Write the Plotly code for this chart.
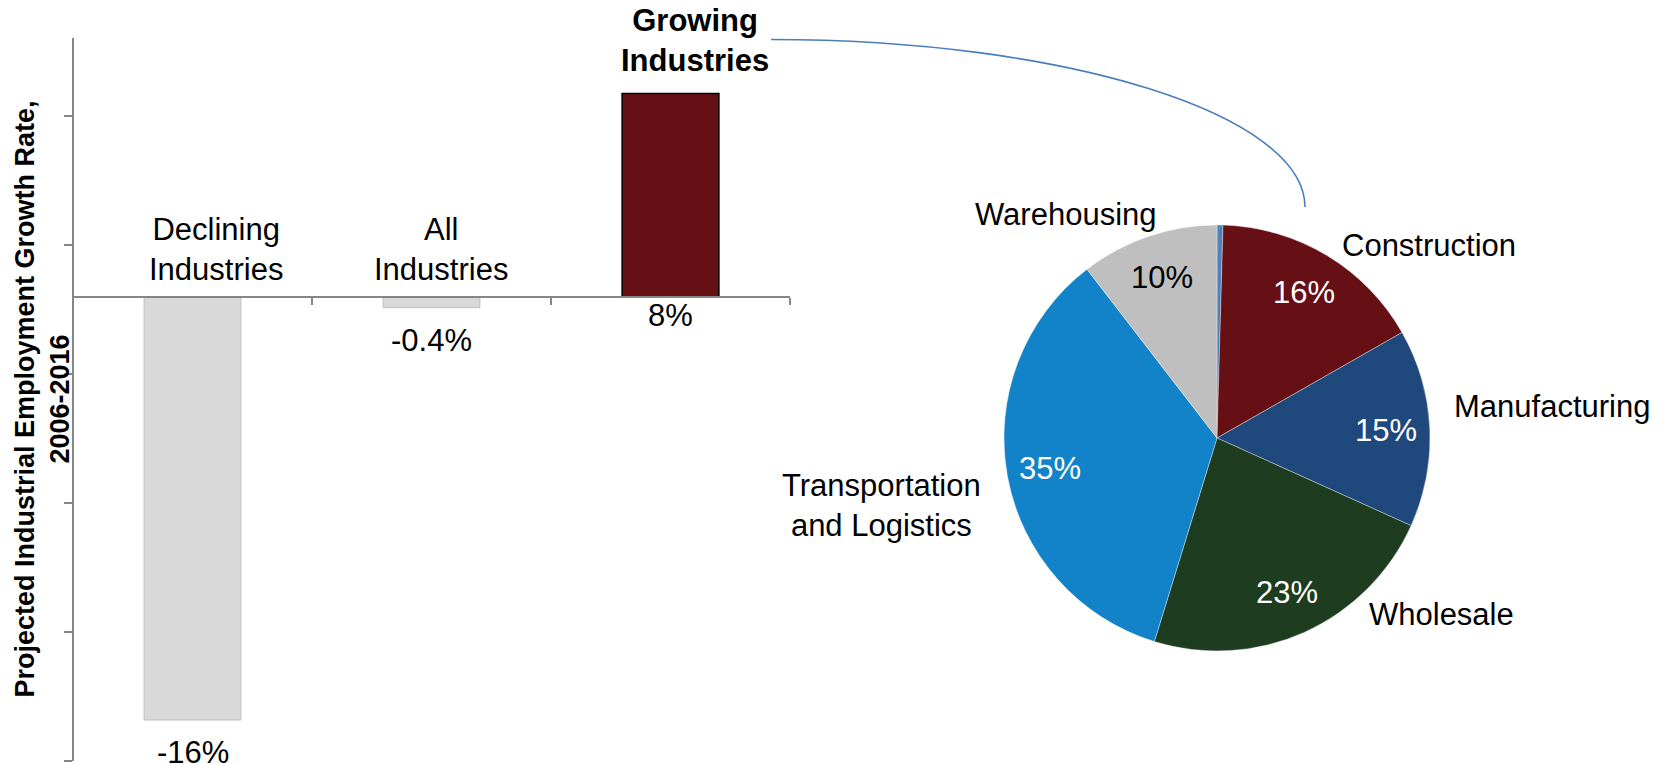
import math
import plotly.graph_objects as go

# ---------------- data ----------------
categories = ["Declining Industries", "All Industries", "Growing Industries"]
growth = [-16.0, -0.4, 7.7]
growth_labels = ["-16%", "-0.4%", "8%"]
y_range = [-17.55, 9.8]
y_ticks = [-17.55, -12.67, -7.79, -2.91, 1.97, 6.85]

sectors = ["Other", "Construction", "Manufacturing", "Wholesale",
           "Transportation and Logistics", "Warehousing"]
shares = [0.45, 16.3, 15.0, 23.0, 34.8, 10.45]
share_labels = ["", "16%", "15%", "23%", "35%", "10%"]

# ---------------- style ----------------
W, H = 1675, 764
FONT = "Arial, Liberation Sans, sans-serif"
AXIS_COLOR = "#868686"
bar_fill = ["#d9d9d9", "#d9d9d9", "#660f14"]
bar_line = ["#bfbfbf", "#bfbfbf", "#000000"]
bar_line_w = [1, 1, 1.5]
cat_label_xshift = [23, 9, 24]
pie_colors = ["#4f81bd", "#660f14", "#1f497d", "#1d3c20", "#1283c9", "#bfbfbf"]
inside_text_colors = ["white", "white", "white", "white", "white", "black"]


def px(x):
    return x / W


def py(y):
    return 1 - y / H


x_dom = [px(73), px(790)]
y_dom = [py(761), py(38)]
zero_pos = y_dom[0] + (0 - y_range[0]) / (y_range[1] - y_range[0]) * (y_dom[1] - y_dom[0])

fig = go.Figure()

fig.add_trace(go.Bar(
    x=list(range(len(categories))), y=growth, width=0.405,
    marker=dict(color=bar_fill, line=dict(color=bar_line, width=bar_line_w)),
    hoverinfo="skip", showlegend=False,
))

# pie geometry (pixels)
pcx, pcy, pR = 1217, 438, 213
fig.add_trace(go.Pie(
    labels=sectors, values=shares, sort=False, direction="clockwise", rotation=0,
    marker=dict(colors=pie_colors, line=dict(color="rgba(255,255,255,0.45)", width=0.8)),
    textinfo="none", textposition="none", hoverinfo="skip", showlegend=False,
    domain=dict(x=[px(pcx - pR), px(pcx + pR)], y=[py(pcy + pR), py(pcy - pR)]),
))

annotations = []
font_n = dict(family=FONT, size=31, color="black")

# category labels
for i, cat in enumerate(categories):
    txt = cat.replace(" ", "<br>")
    if growth[i] > 0:
        annotations.append(dict(x=i, y=growth[i], xref="x", yref="y", text="<b>" + txt + "</b>",
                                showarrow=False, xanchor="center", yanchor="bottom",
                                xshift=cat_label_xshift[i], yshift=14, font=font_n))
    else:
        annotations.append(dict(x=i, y=0, xref="x", yref="y", text=txt,
                                showarrow=False, xanchor="center", yanchor="bottom",
                                xshift=cat_label_xshift[i], yshift=8, font=font_n))
    # value labels
    annotations.append(dict(x=i, y=min(growth[i], 0), xref="x", yref="y", text=growth_labels[i],
                            showarrow=False, xanchor="center", yanchor="top",
                            yshift=-13 if growth[i] < 0 else 1, font=font_n))

# y-axis title
annotations.append(dict(x=px(42.5), y=py(399), xref="paper", yref="paper",
                        text="<b>Projected Industrial Employment Growth Rate,<br>2006-2016</b>",
                        textangle=-90, showarrow=False, xanchor="center", yanchor="middle",
                        font=dict(family=FONT, size=27, color="black")))

# pie inside labels at 0.795 R along bisector
total = sum(shares)
cum = 0.0
for i, v in enumerate(shares):
    mid = (cum + v / 2) / total * 2 * math.pi
    cum += v
    if not share_labels[i]:
        continue
    r = 0.795 * pR
    x = pcx + r * math.sin(mid)
    y = pcy - r * math.cos(mid)
    annotations.append(dict(x=px(x), y=py(y), xref="paper", yref="paper", text=share_labels[i],
                            showarrow=False, xanchor="center", yanchor="middle",
                            font=dict(family=FONT, size=31, color=inside_text_colors[i])))

# pie outside category labels
outside_pos = {
    "Construction": (1429, 245),
    "Manufacturing": (1552, 406),
    "Wholesale": (1441.5, 614),
    "Transportation and Logistics": (881, 505.5),
    "Warehousing": (1065.5, 215),
}
for name, (x, y) in outside_pos.items():
    txt = name.replace(" and ", "<br>and ")
    annotations.append(dict(x=px(x), y=py(y), xref="paper", yref="paper", text=txt,
                            showarrow=False, xanchor="center", yanchor="middle", align="center",
                            font=font_n))

# connector curve (quarter ellipse)
sx, sy, ex, ey = 771, 39.5, 1305, 207
k = 0.5523
path = "M {} {} C {} {} {} {} {} {}".format(
    px(sx), py(sy), px(sx + k * (ex - sx)), py(sy), px(ex), py(ey - k * (ey - sy)), px(ex), py(ey))

fig.update_layout(
    width=W, height=H, margin=dict(l=0, r=0, t=0, b=0),
    paper_bgcolor="white", plot_bgcolor="white",
    font=dict(family=FONT),
    showlegend=False,
    annotations=annotations,
    shapes=[dict(type="path", path=path, xref="paper", yref="paper",
                 line=dict(color="#4a7ebb", width=1.6))],
    xaxis=dict(domain=x_dom, range=[-0.5, 2.5], tickmode="array", tickvals=[-0.5, 0.5, 1.5, 2.5],
               showticklabels=False, ticks="outside", ticklen=7, tickcolor=AXIS_COLOR, tickwidth=1.5,
               showline=True, linecolor=AXIS_COLOR, linewidth=1.5, anchor="free", position=zero_pos,
               showgrid=False, zeroline=False, fixedrange=True),
    yaxis=dict(domain=y_dom, range=y_range, tickmode="array", tickvals=y_ticks,
               showticklabels=False, ticks="outside", ticklen=8, tickcolor=AXIS_COLOR, tickwidth=1.5,
               showline=True, linecolor=AXIS_COLOR, linewidth=1.5, anchor="free", position=x_dom[0],
               showgrid=False, zeroline=False, fixedrange=True),
)

fig.write_html("out.html")
